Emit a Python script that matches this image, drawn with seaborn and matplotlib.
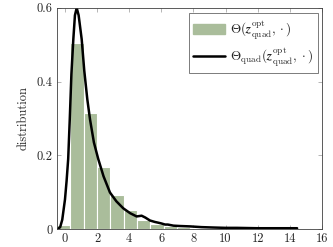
import numpy as np
import pandas as pd
import matplotlib
matplotlib.use("Agg")
import matplotlib.pyplot as plt
import seaborn as sns
from matplotlib.patches import Patch
from matplotlib.lines import Line2D

# histogram: bin edges and density heights
bin_edges = [-0.5 + 0.83 * k for k in range(21)]
bar_heights = [0.012, 0.505, 0.316, 0.169, 0.093, 0.051, 0.025, 0.014, 0.008, 0.005,
               0.003, 0.002, 0.001, 0.001, 0.0005, 0.0005, 0.0003, 0.0003, 0.0002, 0.003]

# curve
curve_x = [-0.45, -0.3, -0.17, 0.0, 0.1, 0.2, 0.3, 0.4, 0.52, 0.62, 0.73, 0.85, 1.04, 1.2,
           1.39, 1.56, 1.8, 2.07, 2.4, 2.8, 3.2, 3.63, 4.05, 4.46, 4.77, 5.0, 5.29, 5.6,
           5.81, 6.0, 6.23, 6.4, 6.75, 7.16, 7.78, 8.5, 9.2, 10.0, 10.7, 12.0, 13.0, 14.45]
curve_y = [0.0, 0.005, 0.025, 0.08, 0.13, 0.19, 0.30, 0.42, 0.515, 0.58, 0.60, 0.58, 0.515,
           0.43, 0.352, 0.297, 0.235, 0.19, 0.143, 0.099, 0.075, 0.056, 0.043, 0.034, 0.036,
           0.031, 0.023, 0.019, 0.017, 0.015, 0.012, 0.012, 0.009, 0.008, 0.007, 0.005,
           0.004, 0.003, 0.003, 0.002, 0.002, 0.002]

x_ticks = [0, 2, 4, 6, 8, 10, 12, 14, 16]
y_ticks = [0, 0.2, 0.4, 0.6]
y_tick_labels = ["0", "0.2", "0.4", "0.6"]
y_label = "distribution"
label_hist = r"$\Theta(\mathbfit{z}^{\rm opt}_{\rm quad},\cdot)$"
label_curve = r"$\Theta_{\rm quad}(\mathbfit{z}^{\rm opt}_{\rm quad},\cdot)$"

sns.set_style("ticks")
plt.rcParams["font.family"] = ["serif"]
plt.rcParams["font.serif"] = ["cmr10", "DejaVu Serif"]
plt.rcParams["mathtext.fontset"] = "cm"
plt.rcParams["axes.formatter.use_mathtext"] = True

bar_color = "#aabd9b"

fig = plt.figure(figsize=(3.33, 2.47), dpi=100)
ax = fig.add_axes([0.171, 0.073, 0.796, 0.895])

centers = [(bin_edges[i] + bin_edges[i + 1]) / 2 for i in range(len(bar_heights))]
df_hist = pd.DataFrame({"x": centers, "w": bar_heights})
sns.histplot(data=df_hist, x="x", weights="w", bins=bin_edges, stat="count",
             color=bar_color, alpha=1.0, edgecolor="white", linewidth=0.8, ax=ax)

df_curve = pd.DataFrame({"x": curve_x, "y": curve_y})
sns.lineplot(data=df_curve, x="x", y="y", color="black", linewidth=1.8, ax=ax,
             sort=False, estimator=None)

ax.set_xlim(-0.5, 16)
ax.set_ylim(0, 0.6)
ax.set_xticks(x_ticks)
ax.set_xticklabels([str(t) for t in x_ticks])
ax.set_yticks(y_ticks)
ax.set_yticklabels(y_tick_labels)
ax.set_xlabel("")
ax.set_ylabel(y_label, fontsize=9, labelpad=5)
ax.tick_params(direction="in", length=3, width=0.5, color="0.6", labelsize=9,
               top=True, right=True, pad=3)
for s in ax.spines.values():
    s.set_visible(True)
    s.set_linewidth(0.6)
    s.set_color("0.25")

handles = [Patch(facecolor=bar_color, edgecolor=bar_color),
           Line2D([0], [0], color="black", linewidth=1.8)]
leg = ax.legend(handles, [label_hist, label_curve], loc="upper right",
                bbox_to_anchor=(0.985, 0.975), fontsize=9.5, frameon=True, fancybox=False,
                edgecolor="0.25", handlelength=2.4, handleheight=0.8, borderpad=0.35,
                labelspacing=0.3, handletextpad=0.4, borderaxespad=0.0)
leg.get_frame().set_linewidth(0.6)

fig.savefig("out.png", dpi=100)
